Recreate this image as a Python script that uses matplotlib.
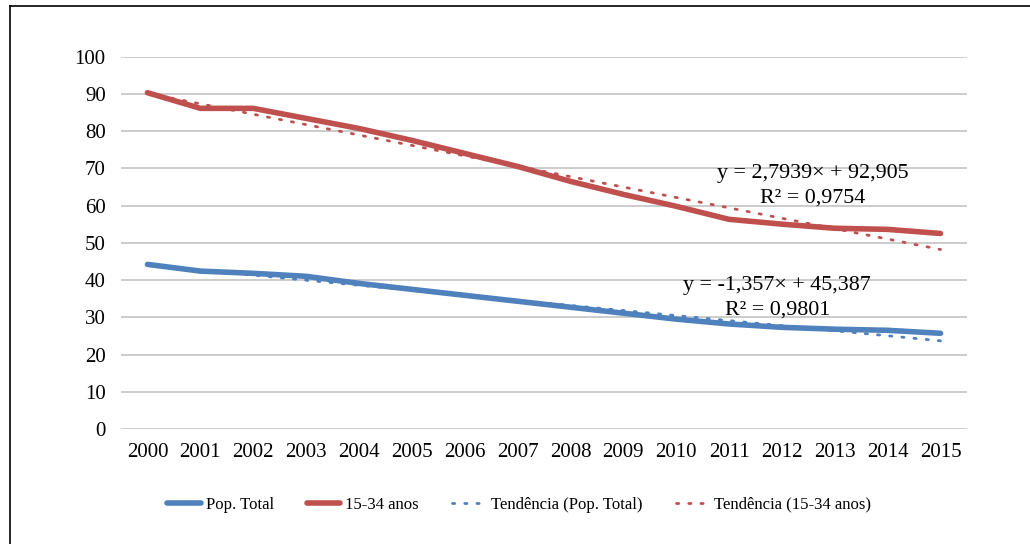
import numpy as np
import matplotlib.pyplot as plt
from matplotlib.lines import Line2D

plt.rcParams['font.family'] = ['Liberation Serif', 'DejaVu Serif']

# Data
years = ['2000', '2001', '2002', '2003', '2004', '2005', '2006', '2007',
         '2008', '2009', '2010', '2011', '2012', '2013', '2014', '2015']
pop_total = [44.2, 42.4, 41.8, 41.0, 39.1, 37.5, 35.9, 34.3,
             32.7, 31.1, 29.5, 28.2, 27.3, 26.8, 26.5, 25.7]
jovens = [90.3, 86.1, 86.1, 83.4, 80.7, 77.5, 74.0, 70.5,
          66.5, 63.0, 59.8, 56.3, 55.0, 53.9, 53.6, 52.5]

# Trend line coefficients as shown in the chart labels
trend_total = (-1.357, 45.387)
trend_jovens = (-2.7939, 92.905)

blue = '#4F81BD'
red = '#C0504D'
dots = (0, (0.8, 3.6))

fig = plt.figure(figsize=(10.3, 5.44), dpi=100)
ax = fig.add_axes([0.1175, 0.2114, 0.8213, 0.6846])

x = np.arange(len(years))
n = x + 1

ax.plot(x, pop_total, color=blue, lw=4, solid_capstyle='round', zorder=3)
ax.plot(x, jovens, color=red, lw=4, solid_capstyle='round', zorder=3)
ax.plot(x, trend_total[0] * n + trend_total[1], color=blue, lw=2,
        linestyle=dots, dash_capstyle='round', zorder=4)
ax.plot(x, trend_jovens[0] * n + trend_jovens[1], color=red, lw=2,
        linestyle=dots, dash_capstyle='round', zorder=4)

ax.set_xlim(-0.5, len(years) - 0.5)
ax.set_ylim(0, 100)
ax.set_yticks(range(0, 101, 10))
ax.set_xticks(x)
ax.set_xticklabels(years)
ax.tick_params(axis='both', length=0, labelsize=15, colors='black')
ax.tick_params(axis='y', pad=11)
ax.tick_params(axis='x', pad=10)
ax.grid(axis='y', color='#C8C8C8', lw=1.3)
ax.set_axisbelow(True)
for s in ax.spines.values():
    s.set_visible(False)

# Trend equations
ax.text(12.59, 68.6, 'y = 2,7939× + 92,905', ha='center', va='center', fontsize=15.8)
ax.text(12.59, 62.0, 'R² = 0,9754', ha='center', va='center', fontsize=15.8)
ax.text(11.91, 38.6, 'y = -1,357× + 45,387', ha='center', va='center', fontsize=15.8)
ax.text(11.91, 31.9, 'R² = 0,9801', ha='center', va='center', fontsize=15.8)

handles = [
    Line2D([], [], color=blue, lw=4, solid_capstyle='round'),
    Line2D([], [], color=red, lw=4, solid_capstyle='round'),
    Line2D([], [], color=blue, lw=2, linestyle=dots, dash_capstyle='round'),
    Line2D([], [], color=red, lw=2, linestyle=dots, dash_capstyle='round'),
]
labels = ['Pop. Total', '15-34 anos', 'Tendência (Pop. Total)', 'Tendência (15-34 anos)']
fig.legend(handles, labels, loc='center', bbox_to_anchor=(0.504, 0.072), ncol=4,
           frameon=False, fontsize=12, handlelength=2.0, handletextpad=0.3,
           columnspacing=2.0)

# Outer frame (top and left edges visible)
fig.add_artist(Line2D([10 / 1030, 10 / 1030], [0, 1 - 6 / 544], color='black',
                      lw=1.2, transform=fig.transFigure))
fig.add_artist(Line2D([10 / 1030, 1], [1 - 6 / 544, 1 - 6 / 544], color='black',
                      lw=1.2, transform=fig.transFigure))

fig.savefig('out.png', dpi=100, facecolor='white')
